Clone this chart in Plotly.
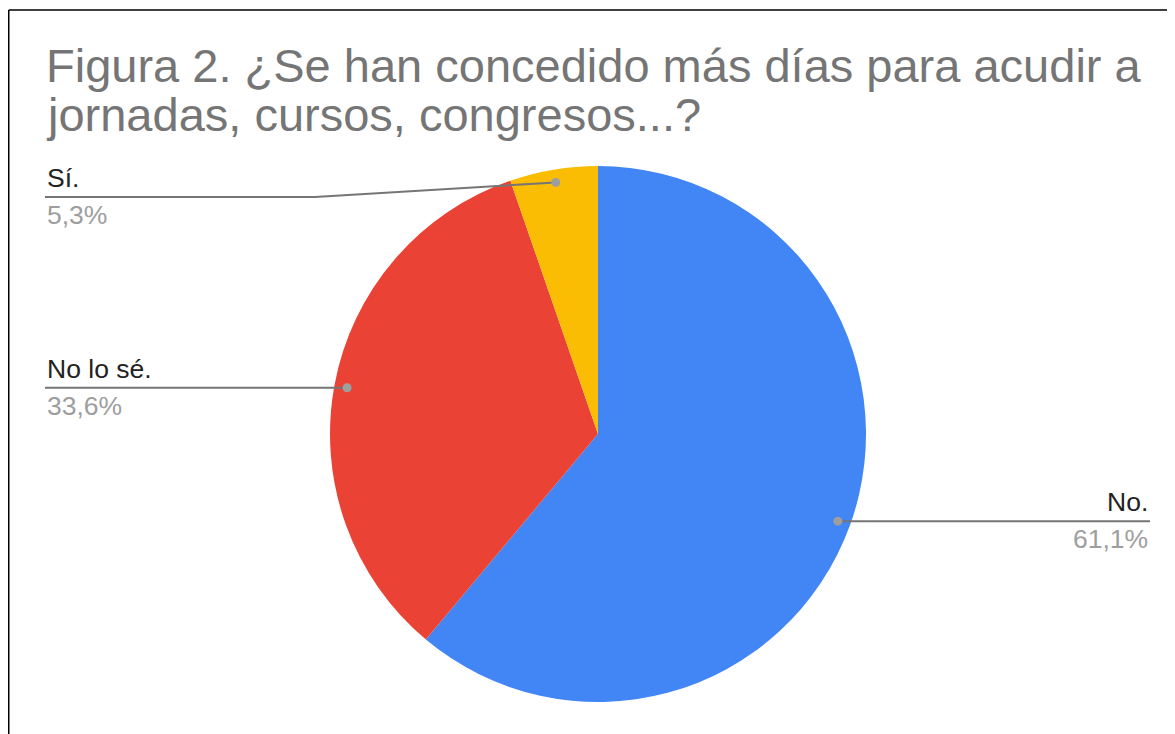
import math
import plotly.graph_objects as go

# Page offset (default body margin) and figure size
OFF = 8
W, H = 1175 - OFF, 734 - OFF

# Data
categories = ["No.", "No lo sé.", "Sí."]
values = [61.1, 33.6, 5.3]
pct_labels = ["61,1%", "33,6%", "5,3%"]
colors = ["#4285F4", "#EA4335", "#FBBC04"]

title_lines = ["Figura 2. ¿Se han concedido más días para acudir a",
               "jornadas, cursos, congresos...?"]

# Layout geometry (screen pixels)
cx, cy, R = 598, 434, 268
dot_r = 0.952 * R
label_side = ["right", "left", "left"]
label_line_y = [None, None, 197]   # None -> same as dot
elbow_x = [None, None, 315]
left_x, right_x = 45, 1150
FONT = "Arial, Liberation Sans, sans-serif"

def px(x):
    return (x - OFF) / W

def py(y):
    return 1 - (y - OFF) / H

fig = go.Figure()
fig.add_trace(go.Pie(
    labels=categories,
    values=values,
    sort=False,
    direction="clockwise",
    rotation=0,
    marker=dict(colors=colors, line=dict(width=0)),
    textinfo="none",
    hoverinfo="label+percent",
    showlegend=False,
    domain=dict(x=[px(cx - R), px(cx + R)], y=[py(cy + R), py(cy - R)]),
))

shapes = []
annotations = []
total = sum(values)
cum = 0.0
for i, v in enumerate(values):
    mid = (cum + v / 2) / total * 2 * math.pi
    cum += v
    dx = cx + dot_r * math.sin(mid)
    dy = cy - dot_r * math.cos(mid)
    ly = label_line_y[i] if label_line_y[i] is not None else dy
    if label_side[i] == "right":
        pts = [(dx, dy), (right_x, ly)]
    else:
        pts = [(dx, dy)]
        if elbow_x[i] is not None:
            pts.append((elbow_x[i], ly))
        pts.append((left_x, ly))
    path = "M " + " L ".join(f"{px(a):.5f},{py(b):.5f}" for a, b in pts)
    shapes.append(dict(type="path", xref="paper", yref="paper", path=path,
                       line=dict(color="#757575", width=2)))
    rr = 4.5
    shapes.append(dict(type="circle", xref="paper", yref="paper",
                       x0=px(dx - rr), x1=px(dx + rr), y0=py(dy + rr), y1=py(dy - rr),
                       fillcolor="#9E9E9E", line=dict(width=0)))
    ax = right_x if label_side[i] == "right" else left_x
    xanchor = "right" if label_side[i] == "right" else "left"
    annotations.append(dict(x=px(ax), y=py(ly - 2), xref="paper", yref="paper",
                            xanchor=xanchor, yanchor="bottom", showarrow=False,
                            text=categories[i],
                            font=dict(size=26.5, color="#222222", family=FONT)))
    annotations.append(dict(x=px(ax), y=py(ly + 1), xref="paper", yref="paper",
                            xanchor=xanchor, yanchor="top", showarrow=False,
                            text=pct_labels[i],
                            font=dict(size=26.5, color="#9E9E9E", family=FONT)))

# title, two lines with tight spacing (baselines ~82 and ~128)
title_y = [38, 87]
for t, yy in zip(title_lines, title_y):
    annotations.append(dict(x=px(45), y=py(yy), xref="paper", yref="paper",
                            xanchor="left", yanchor="top", showarrow=False, align="left",
                            borderpad=0,
                            text=t,
                            font=dict(size=47, color="#757575", family=FONT)))

# frame lines
shapes.append(dict(type="line", xref="paper", yref="paper",
                   x0=px(8.75), x1=px(1180), y0=py(10), y1=py(10),
                   line=dict(color="#000000", width=1.5)))
shapes.append(dict(type="line", xref="paper", yref="paper",
                   x0=px(8.75), x1=px(8.75), y0=py(10), y1=py(740),
                   line=dict(color="#000000", width=1.5)))

fig.update_layout(
    width=W, height=H,
    margin=dict(l=0, r=0, t=0, b=0),
    paper_bgcolor="white",
    plot_bgcolor="white",
    shapes=shapes,
    annotations=annotations,
)

fig.write_html("out.html")
